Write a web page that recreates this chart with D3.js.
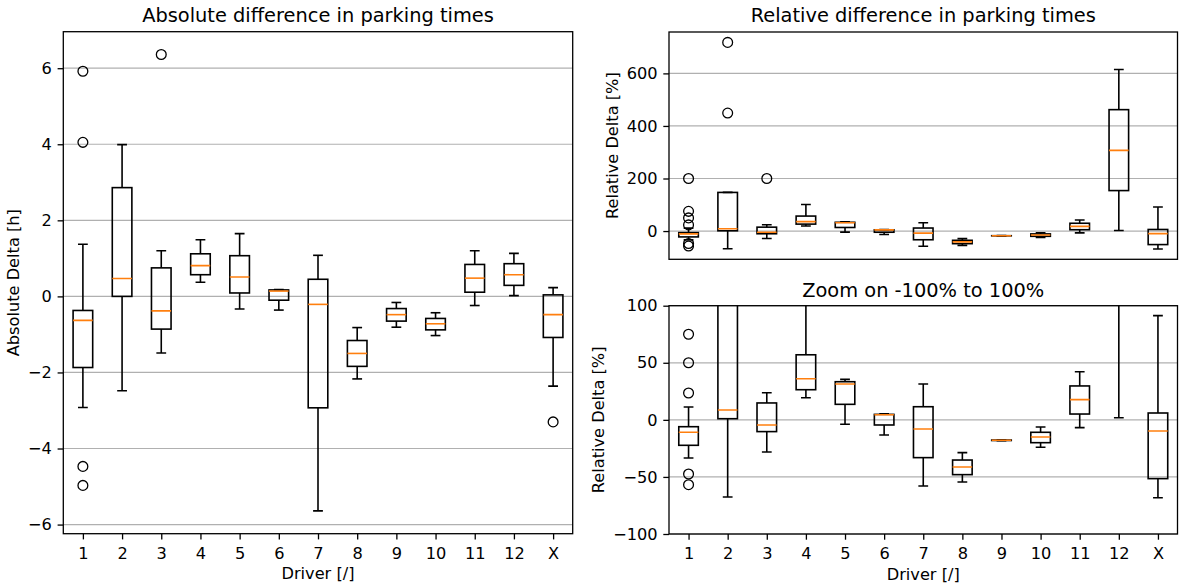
<html lang="en">
<head>
<meta charset="UTF-8">
<title>Parking time differences</title>
<style>
  body { margin: 0; background: #fff; }
  svg { display: block; font-family: "DejaVu Sans", sans-serif; }
</style>
<script src="https://d3js.org/d3.v7.min.js"></script>
</head>
<body>
<svg id="chart" width="1179" height="586"></svg>
<script>
// drivers on the x axis
const drivers = ["1", "2", "3", "4", "5", "6", "7", "8", "9", "10", "11", "12", "X"];

// absolute delta [h]: whisker low, Q1, median, Q3, whisker high
const absLow  = [-2.92, -2.48, -1.49, 0.37, -0.33, -0.36, -5.64, -2.17, -0.81, -1.03, -0.24, 0.02, -2.36];
const absQ1   = [-1.87, 0.00, -0.86, 0.57, 0.09, -0.10, -2.93, -1.84, -0.65, -0.88, 0.11, 0.29, -1.08];
const absMed  = [-0.63, 0.47, -0.38, 0.81, 0.51, 0.14, -0.21, -1.50, -0.48, -0.72, 0.48, 0.57, -0.48];
const absQ3   = [-0.37, 2.86, 0.75, 1.12, 1.07, 0.17, 0.45, -1.16, -0.32, -0.58, 0.84, 0.86, 0.04];
const absHigh = [1.37, 3.99, 1.20, 1.49, 1.65, 0.18, 1.08, -0.82, -0.16, -0.43, 1.20, 1.13, 0.23];
const absOut  = [[5.92, 4.05, -4.47, -4.97], [], [6.36], [], [], [], [], [], [], [], [], [], [-3.30]];

// relative delta [%]
const relLow  = [-33.4, -67.6, -28.2, 19.4, -3.9, -13.3, -58.0, -54.4, -18.3, -24.0, -6.8, 1.9, -68.2];
const relQ1   = [-22.3, 1.0, -10.3, 26.4, 13.6, -4.5, -33.1, -48.0, -18.1, -20.0, 5.1, 154, -51.5];
const relMed  = [-10.9, 8.6, -4.5, 36.0, 31.4, 4.5, -8.0, -41.3, -17.9, -15.0, 17.7, 307, -9.8];
const relQ3   = [-6.0, 147, 14.8, 57.0, 33.4, 4.8, 11.5, -35.2, -17.7, -10.9, 29.7, 462, 6.0];
const relHigh = [11.3, 147, 23.8, 101, 35.5, 5.4, 31.4, -28.7, -17.5, -6.3, 42.2, 615, 91.3];
const relOut  = [[200, 75, 50, 23.5, -47.4, -56.8], [449, 718], [200], [], [], [], [], [], [], [], [], [], []];

const absTicks = [-6, -4, -2, 0, 2, 4, 6];
const relTicks = [0, 200, 400, 600];
const zoomTicks = [-100, -50, 0, 50, 100];

const svg = d3.select("#chart");
const TICK_FONT = 16.2, TITLE_FONT = 19.4;

function makeStats(low, q1, med, q3, high, out) {
  return drivers.map((d, i) => ({ i: i + 1, low: low[i], q1: q1[i], med: med[i], q3: q3[i], high: high[i], out: out[i] }));
}

function drawPanel(p) {
  var x = d3.scaleLinear().domain([0.5, 13.5]).range([p.x0, p.x1]);
  var y = d3.scaleLinear().domain(p.domain).range([p.y1, p.y0]);
  var g = svg.append("g");

  // horizontal grid
  g.append("g").selectAll("line").data(p.ticks).join("line")
    .attr("x1", p.x0).attr("x2", p.x1)
    .attr("y1", d => y(d)).attr("y2", d => y(d))
    .attr("stroke", "#b0b0b0").attr("stroke-width", 1.2);

  var clipId = "clip" + p.id;
  svg.append("clipPath").attr("id", clipId).append("rect")
    .attr("x", p.x0).attr("y", p.y0).attr("width", p.x1 - p.x0).attr("height", p.y1 - p.y0);

  var boxes = g.append("g").attr("clip-path", "url(#" + clipId + ")");
  var half = (x(1.5) - x(1)) / 2, cap = half / 2;
  p.stats.forEach(s => {
    var cx = x(s.i);
    var b = boxes.append("g").attr("stroke", "#000").attr("stroke-width", 1.6).attr("fill", "none");
    b.append("line").attr("x1", cx).attr("x2", cx).attr("y1", y(s.low)).attr("y2", y(s.q1));
    b.append("line").attr("x1", cx).attr("x2", cx).attr("y1", y(s.q3)).attr("y2", y(s.high));
    b.append("line").attr("x1", cx - cap).attr("x2", cx + cap).attr("y1", y(s.low)).attr("y2", y(s.low));
    b.append("line").attr("x1", cx - cap).attr("x2", cx + cap).attr("y1", y(s.high)).attr("y2", y(s.high));
    b.append("rect").attr("x", cx - half).attr("width", 2 * half)
      .attr("y", y(s.q3)).attr("height", Math.max(0.01, y(s.q1) - y(s.q3)));
    b.append("line").attr("x1", cx - half).attr("x2", cx + half)
      .attr("y1", y(s.med)).attr("y2", y(s.med)).attr("stroke", "#ff7f0e");
    b.selectAll("circle").data(s.out).join("circle")
      .attr("cx", cx).attr("cy", d => y(d)).attr("r", 4.9).attr("stroke-width", 1.3);
  });

  // y axis
  var ya = g.append("g").attr("transform", "translate(" + p.x0 + ",0)")
    .call(d3.axisLeft(y).tickValues(p.ticks).tickSize(5.7).tickPadding(5.7));
  ya.select(".domain").remove();
  ya.selectAll("line").attr("stroke-width", 1.3);
  ya.selectAll("text").attr("font-size", TICK_FONT).attr("font-family", "DejaVu Sans").attr("fill", "#000");

  if (p.xTicks) {
    var xa = g.append("g").attr("transform", "translate(0," + p.y1 + ")")
      .call(d3.axisBottom(x).tickValues(d3.range(1, 14)).tickFormat(i => drivers[i - 1]).tickSize(5.7));
    xa.select(".domain").remove();
    xa.selectAll("line").attr("stroke-width", 1.3);
    xa.selectAll("text").attr("font-size", TICK_FONT).attr("font-family", "DejaVu Sans")
      .attr("fill", "#000").attr("y", 25).attr("dy", 0);
    g.append("text").attr("x", (p.x0 + p.x1) / 2).attr("y", p.y1 + 45.5)
      .attr("text-anchor", "middle").attr("font-size", TICK_FONT).text("Driver [/]");
  }

  // spines
  g.append("rect").attr("x", p.x0).attr("y", p.y0)
    .attr("width", p.x1 - p.x0).attr("height", p.y1 - p.y0)
    .attr("fill", "none").attr("stroke", "#000").attr("stroke-width", 1.3);

  g.append("text").attr("x", (p.x0 + p.x1) / 2).attr("y", p.titleY)
    .attr("text-anchor", "middle").attr("font-size", TITLE_FONT).text(p.title);

  g.append("text")
    .attr("transform", "translate(" + p.ylabelX + "," + (p.y0 + p.y1) / 2 + ") rotate(-90)")
    .attr("text-anchor", "middle").attr("font-size", TICK_FONT).text(p.ylabel);
}

drawPanel({
  id: "abs", x0: 63.3, x1: 572.7, y0: 31.7, y1: 533.7,
  domain: [-6.24, 6.96], ticks: absTicks, xTicks: true,
  stats: makeStats(absLow, absQ1, absMed, absQ3, absHigh, absOut),
  title: "Absolute difference in parking times", titleY: 21.5,
  ylabel: "Absolute Delta [h]", ylabelX: 19.3
});

drawPanel({
  id: "rel", x0: 669, x1: 1177.5, y0: 32, y1: 259.3,
  domain: [-107.5, 757.5], ticks: relTicks, xTicks: false,
  stats: makeStats(relLow, relQ1, relMed, relQ3, relHigh, relOut),
  title: "Relative difference in parking times", titleY: 21.5,
  ylabel: "Relative Delta [%]", ylabelX: 618
});

drawPanel({
  id: "zoom", x0: 669, x1: 1177.5, y0: 305.7, y1: 534,
  domain: [-100, 100], ticks: zoomTicks, xTicks: true,
  stats: makeStats(relLow, relQ1, relMed, relQ3, relHigh, relOut),
  title: "Zoom on -100% to 100%", titleY: 296.7,
  ylabel: "Relative Delta [%]", ylabelX: 603.5
});
</script>
</body>
</html>
